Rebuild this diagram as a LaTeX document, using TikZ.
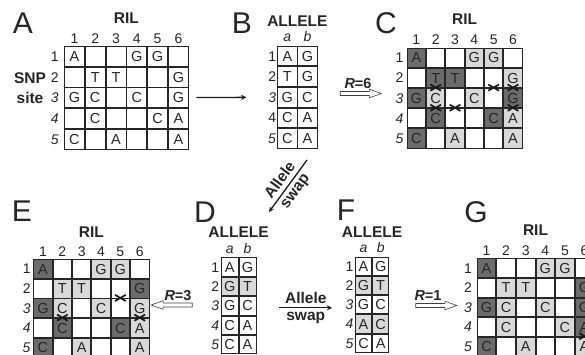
\documentclass[tikz,border=0pt]{standalone}
\usepackage{fontspec}
\setmainfont{Liberation Sans}
\usetikzlibrary{shapes,arrows,positioning,matrix}

\begin{document}
\begin{tikzpicture}[
    x=1pt, y=-1pt,
    cell/.style={draw=black!85, line width=0.9pt, outer sep=0pt, inner sep=0pt, anchor=center,
        text=black!85, text height=10.3pt, text depth=0pt, font=\fontsize{14.5}{15}\selectfont},
    grid/.style={matrix of nodes, nodes in empty cells, inner sep=0pt, outer sep=0pt, anchor=north west, nodes={cell}},
    dk/.style={fill=black!58},
    lt/.style={fill=black!15},
    num/.style={inner sep=0pt, text=black!85, text height=10pt, text depth=0pt, font=\fontsize{14}{14}\selectfont},
    panel/.style={inner sep=0pt, text=black!85, font=\fontsize{30}{30}\selectfont},
    lbl/.style={inner sep=0pt, text=black!85, text depth=0pt, font=\bfseries\fontsize{15.5}{16}\selectfont},
    rlbl/.style={inner sep=0pt, text=black!85, text depth=0pt, font=\bfseries\fontsize{14.5}{15}\selectfont},
    xmark/.style={cross out, draw=black!90, line width=1.7pt, minimum width=9pt, minimum height=4.5pt, inner sep=0pt},
    myarrow/.style={->, >=stealth, line width=1.3pt, black!90},
    hollow/.style={single arrow, draw=black!75, fill=white, line width=0.6pt, inner sep=1.7pt,
        single arrow head extend=2.3pt, single arrow tip angle=40, single arrow head indent=0pt, minimum height=41pt}
]
\useasboundingbox (0,0) rectangle (585,354);
\clip (0,0) rectangle (585,354);

\node[panel] (pA) at (23,23) {A};
\node[panel] (pB) at (242,23) {B};
\node[panel] (pC) at (386,23) {C};
\node[panel] (pD) at (205,212) {D};
\node[panel] (pE) at (22,211) {E};
\node[panel] (pF) at (346,210) {F};
\node[panel] (pG) at (476,212) {G};

\matrix (A) [grid, nodes={minimum width=19.9pt, minimum height=19.8pt}] at (64,46) {
A & & & G & G & \\
& T & T & & & G \\
G & C & & C & & G \\
& C & & & C & A \\
C & & A & & & A \\
};
\matrix (B) [grid, nodes={minimum width=19.2pt, minimum height=19.7pt}] at (277.3,45.7) {
A & G \\
T & G \\
G & C \\
C & A \\
C & A \\
};
\matrix (C) [grid, nodes={minimum width=18.43pt, minimum height=19.27pt}] at (406.7,47.7) {
|[dk]| A & & & |[lt]| G & |[lt]| G & \\
& |[dk]| T & |[dk]| T & & & |[lt]| G \\
|[dk]| G & |[lt]| C & & |[lt]| C & & |[dk]| G \\
& |[dk]| C & & & |[dk]| C & |[lt]| A \\
|[dk]| C & & |[lt]| A & & & |[lt]| A \\
};
\matrix (D) [grid, nodes={minimum width=17pt, minimum height=18.5pt}] at (220.7,257.3) {
A & G \\
|[lt]| G & |[lt]| T \\
G & C \\
C & A \\
C & A \\
};
\matrix (E) [grid, nodes={minimum width=18.45pt, minimum height=18.8pt}] at (33.3,259) {
|[dk]| A & & & |[lt]| G & |[lt]| G & \\
& |[lt]| T & |[lt]| T & & & |[dk]| G \\
|[dk]| G & |[lt]| C & & |[lt]| C & & |[lt]| G \\
& |[dk]| C & & & |[dk]| C & |[lt]| A \\
|[dk]| C & & |[lt]| A & & & |[lt]| A \\
};
\matrix (F) [grid, nodes={minimum width=16.2pt, minimum height=18.3pt}] at (355,256.7) {
A & G \\
|[lt]| G & |[lt]| T \\
G & C \\
|[lt]| A & |[lt]| C \\
C & A \\
};
\matrix (G) [grid, nodes={minimum width=18.7pt, minimum height=18.7pt}] at (476.7,258.3) {
|[dk]| A & & & |[lt]| G & |[lt]| G & \\
& |[lt]| T & |[lt]| T & & & |[dk]| G \\
|[dk]| G & |[lt]| C & & |[lt]| C & & |[dk]| G \\
& |[lt]| C & & & |[lt]| C & |[dk]| A \\
|[dk]| C & & |[lt]| A & & & |[lt]| A \\
};

\foreach \m in {A,C,E,G}
    \foreach \c in {1,...,6}
        \node[num, above=3.2pt of \m-1-\c] (\m-c\c) {\c};
\foreach \m/\d in {A/5.5pt,C/3.5pt,E/3pt,G/5pt}
    \foreach \r/\t in {1/1,2/2,3/\textit{3},4/\textit{4},5/\textit{5}}
        \node[num, left=\d of \m-\r-1] (\m-r\r) {\t};
\foreach \r/\t in {1/1,2/2,3/\textit{3},4/4,5/\textit{5}}
    \node[num, left=1.5pt of B-\r-1] (B-r\r) {\t};
\foreach \m in {D,F}
    \foreach \r/\t in {1/1,2/2,3/\textit{3},4/\textit{4},5/\textit{5}}
        \node[num, left=1.8pt of \m-\r-1] (\m-r\r) {\t};
\foreach \m in {B,D,F} {
    \node[num, above=4pt of \m-1-1] (\m-a) {\textit{a}};
    \node[num, above=4pt of \m-1-2] (\m-b) {\textit{b}};
}

\node[lbl, above=22pt of A.north] (A-t) {RIL};
\node[lbl, above=23pt of C.north] (C-t) {RIL};
\node[lbl, above=21.5pt of E.north] (E-t) {RIL};
\node[lbl, above=22.5pt of G.north] (G-t) {RIL};
\node[lbl, above=19.5pt of B.north] (B-t) {ALLELE};
\node[lbl, above=19.5pt of D.north] (D-t) {ALLELE};
\node[lbl, above=19.5pt of F.north] (F-t) {ALLELE};
\node[inner sep=0pt, align=center, text=black!85, font=\bfseries\fontsize{15.5}{20}\selectfont] (snp) at (30,88) {SNP\\site};

\foreach \p [count=\i] in {C-2-2.south,C-3-2.south,C-3-3.south,C-2-5.south,C-2-6.south,C-3-6.south}
    \node[xmark] (xC\i) at (\p) {};
\foreach \p [count=\i] in {E-3-2.south,E-2-5.south,E-3-6.south}
    \node[xmark] (xE\i) at (\p) {};
\node[xmark] (xG1) at (G-4-6.south) {};

\draw[myarrow, shorten <=7.5pt, shorten >=31pt] (A) -- (B);
\node[hollow] (RBC) at (358,93.5) {};
\node[rlbl, above=2.5pt of RBC] (R6) {\textit{R}=6};

\coordinate (sw1) at (307,160);
\coordinate (sw2) at (269,212);
\draw[myarrow] (sw1) -- (sw2)
    node[lbl, midway, above=4.5pt, sloped] (swA) {Allele}
    node[lbl, midway, below=4.5pt, sloped, text height=8pt] (swB) {swap};

\node[hollow, shape border rotate=180] (RDE) at (174.5,305) {};
\node[rlbl, above=2.5pt of RDE, xshift=3.5pt] (R3) {\textit{R}=3};

\draw[myarrow, shorten <=22pt, shorten >=23pt] ([yshift=-2pt]D.east) -- ([yshift=-2pt]D.east -| F.west)
    node[lbl, midway, above=4pt] (sw3) {Allele}
    node[lbl, midway, below=4pt, text height=8pt] (sw4) {swap};

\node[hollow] (RFG) at (433.5,305.5) {};
\node[rlbl, above=2.5pt of RFG, xshift=-5.5pt] (R1) {\textit{R}=1};
\end{tikzpicture}
\end{document}
